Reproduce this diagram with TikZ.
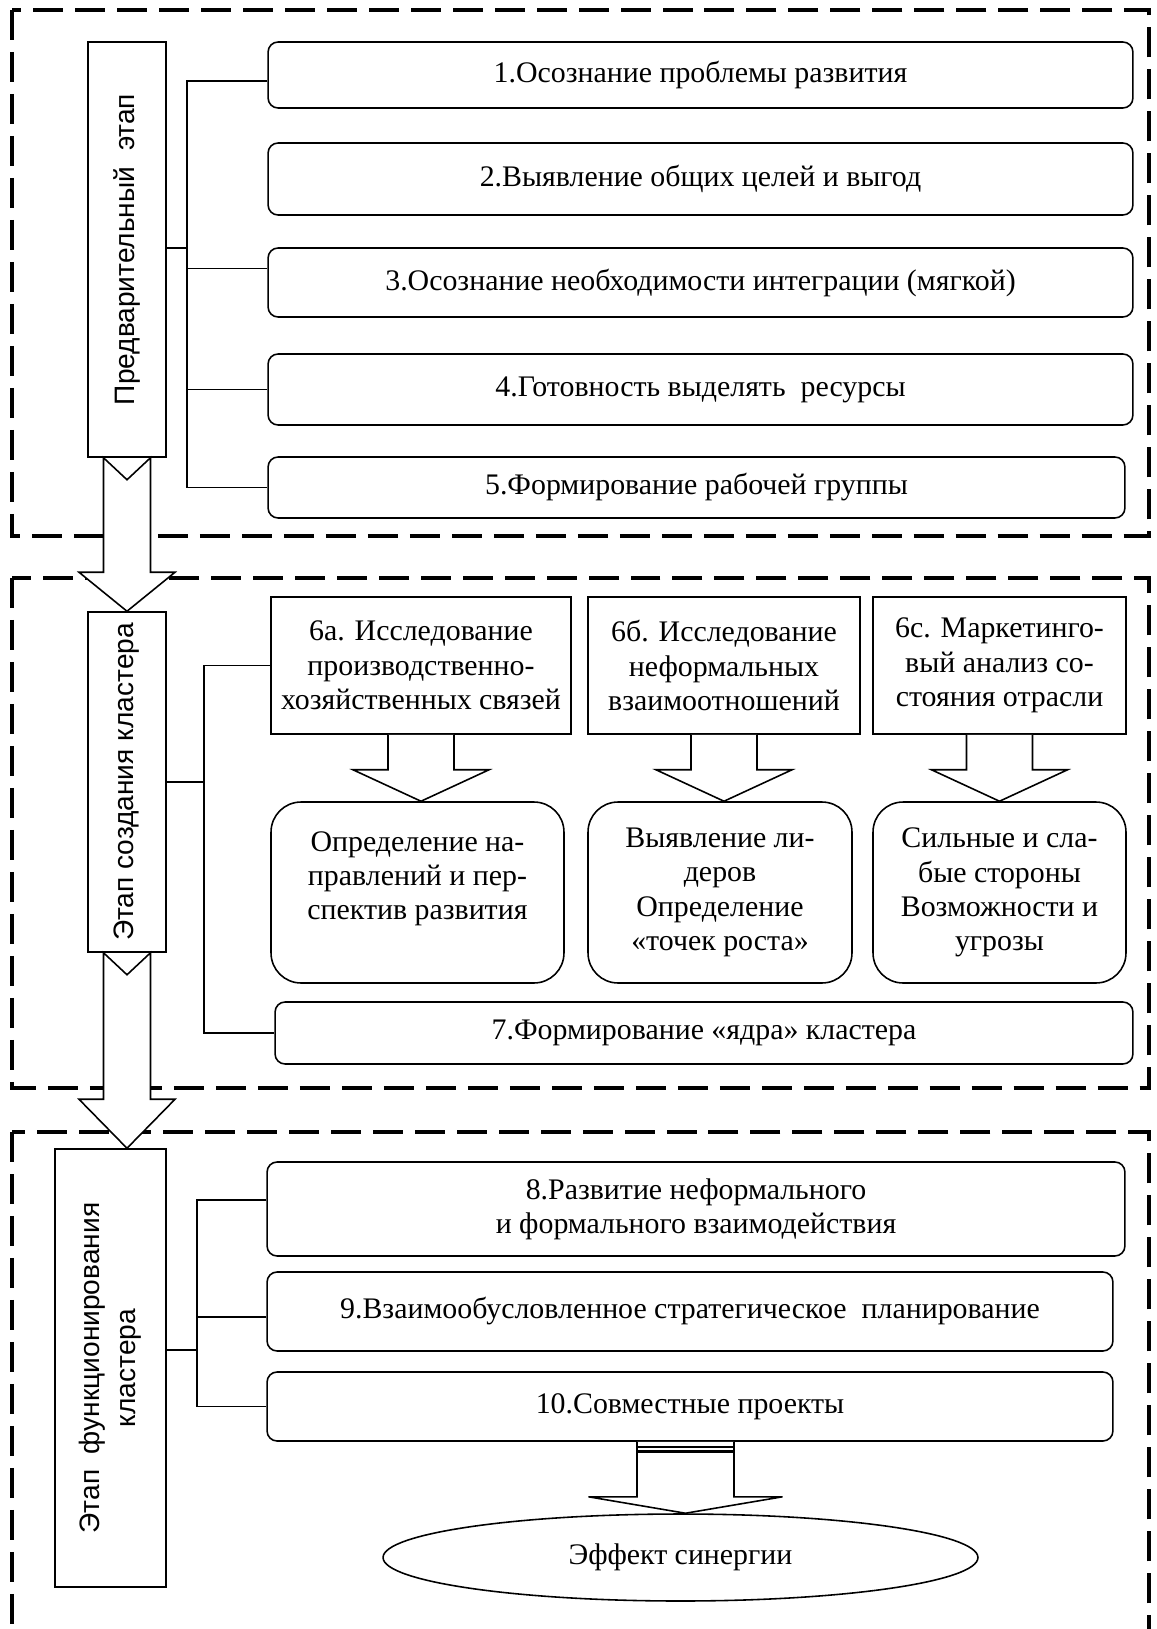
\documentclass[tikz,border=0pt]{standalone}
\usepackage{fontspec}
\usepackage{graphicx}
\setmainfont{Liberation Serif}
\newfontfamily\stagefont{Liberation Sans}
\usetikzlibrary{calc,shapes.geometric}
\tikzset{
  frame-dash/.style={line width=2.2pt, dash pattern=on 0.6cm off 0.24cm},
  box/.style={
    draw=black,
    line width=0.9pt,
    fill=white,
    inner sep=0pt,
    align=center,
    font=\fontsize{17}{19.5}\selectfont
  },
  step-box/.style={box, rounded corners=0.2cm},
  stage-box/.style={box, font=\stagefont\fontsize{16}{20.5}\selectfont},
  study-box/.style={box, minimum height=2.74cm},
  result-box/.style={box, rounded corners=0.6cm, minimum height=3.62cm},
  link/.style={line width=0.9pt},
  fat-arrow/.style={draw=black, line width=0.9pt, fill=white, line join=miter}
}
% big arrow between two stage boxes: from, to, head height
\newcommand{\stagearrow}[3]{
  \draw[fat-arrow] ($(#1.south)+(-23.5,0)$) -- ($(#1.south)+(0,22)$) -- ($(#1.south)+(23.5,0)$)
    -- ($(#1.south |- #2.north)+(23.5,-#3)$) -- ($(#1.south |- #2.north)+(48,-#3)$)
    -- (#1.south |- #2.north) -- ($(#1.south |- #2.north)+(-48,-#3)$)
    -- ($(#1.south |- #2.north)+(-23.5,-#3)$) -- cycle;
}
% small arrow from a study box down to its result box
\newcommand{\studyarrow}[2]{
  \draw[fat-arrow] ($(#1.south)+(-33,0)$) -- ($(#1.south)+(-33,35)$) -- ($(#1.south)+(-68,35)$)
    -- (#1.south |- #2.north) -- ($(#1.south)+(68,35)$) -- ($(#1.south)+(33,35)$)
    -- ($(#1.south)+(33,0)$);
}

\begin{document}
\begin{tikzpicture}[x=0.02cm, y=-0.02cm]
  \useasboundingbox (0,0) rectangle (1156,1629);
  \clip (0,0) rectangle (1156,1629);

  % --- Dashed stage frames ---
  \draw[frame-dash] (12,10) rectangle (1149,536);
  \draw[frame-dash] (12,578) rectangle (1149,1088);
  \draw[frame-dash] (12,1132) rectangle (1149,1660);

  % --- Stage 1 ---
  \node[stage-box, minimum width=1.56cm, minimum height=8.3cm] (stage1) at (127,249.5)
    {\rotatebox{90}{Предварительный\ \ этап}};
  \node[step-box, minimum width=17.3cm, minimum height=1.32cm] (s1) at (700.5,75)
    {1.Осознание проблемы развития};
  \node[step-box, minimum width=17.3cm, minimum height=1.44cm] (s2) at (700.5,179)
    {2.Выявление общих целей и выгод};
  \node[step-box, minimum width=17.3cm, minimum height=1.38cm] (s3) at (700.5,282.5)
    {3.Осознание необходимости интеграции (мягкой)};
  \node[step-box, minimum width=17.3cm, minimum height=1.42cm] (s4) at (700.5,389.5)
    {4.Готовность выделять\ \ ресурсы};
  \node[step-box, minimum width=17.14cm, minimum height=1.22cm] (s5) at (696.5,487.5)
    {5.Формирование рабочей группы};

  \coordinate (j1) at (187,248);
  \draw[link] (stage1.east |- j1) -- (j1);
  \draw[link] ([yshift=-0.12cm]s1.west) -| (j1) |- (s5.west);
  \coordinate (c3) at ([yshift=0.28cm]s3.west);
  \draw[link] (c3) -- (j1 |- c3);
  \draw[link] (s4.west) -- (j1 |- s4.west);

  % --- Stage 2 ---
  \node[stage-box, minimum width=1.56cm, minimum height=6.8cm] (stage2) at (127,782)
    {\rotatebox{90}{Этап создания кластера}};
  \node[study-box, minimum width=6.0cm] (a6) at (421,665.5)
    {6а. Исследование\\производственно-\\хозяйственных связей};
  \node[study-box, minimum width=5.44cm] (b6) at (724,665.5)
    {6б. Исследование\\неформальных\\взаимоотношений};
  \node[study-box, minimum width=5.06cm] (c6) at (999.5,665.5)
    {6с. Маркетинго-\\вый анализ со-\\стояния отрасли};
  \node[result-box, minimum width=5.86cm] (ra) at (417.5,892.5)
    {Определение на-\\правлений и пер-\\спектив развития\\\mbox{}};
  \node[result-box, minimum width=5.28cm] (rb) at (720,892.5)
    {Выявление ли-\\деров\\Определение\\«точек роста»};
  \node[result-box, minimum width=5.06cm] (rc) at (999.5,892.5)
    {Сильные и сла-\\бые стороны\\Возможности и\\угрозы};
  \node[step-box, minimum width=17.16cm, minimum height=1.24cm] (s7) at (704,1033)
    {7.Формирование «ядра» кластера};

  \studyarrow{a6}{ra}
  \studyarrow{b6}{rb}
  \studyarrow{c6}{rc}

  \coordinate (j2) at (204,782);
  \draw[link] (stage2.east) -- (j2);
  \draw[link] (a6.west) -| (j2) |- (s7.west);

  % --- Stage 3 ---
  \node[stage-box, minimum width=2.22cm, minimum height=8.76cm] (stage3) at (110.5,1368)
    {\rotatebox{90}{\begin{tabular}{@{}c@{}}Этап\ \ функционирования\\кластера\end{tabular}}};
  \node[step-box, minimum width=17.16cm, minimum height=1.88cm] (s8) at (696,1209)
    {8.Развитие неформального\\и формального взаимодействия};
  \node[step-box, minimum width=16.92cm, minimum height=1.58cm] (s9) at (690,1311.5)
    {9.Взаимообусловленное стратегическое\ \ планирование};
  \node[step-box, minimum width=16.92cm, minimum height=1.38cm] (s10) at (690,1406.5)
    {10.Совместные проекты};
  \node[box, ellipse, minimum width=11.9cm, minimum height=1.74cm] (eff) at (680.5,1557.5)
    {Эффект синергии};

  \coordinate (j3) at (197,1350);
  \draw[link] ([yshift=0.36cm]stage3.east) -- (j3);
  \draw[link] ([yshift=0.18cm]s8.west) -| (j3) |- (s10.west);
  \coordinate (c9) at ([yshift=-0.11cm]s9.west);
  \draw[link] (c9) -- (j3 |- c9);

  % --- Arrows between stages ---
  \stagearrow{stage1}{stage2}{39}
  \stagearrow{stage2}{stage3}{49}

  % striped arrow to the synergy effect
  \coordinate (fx) at ($(s10.south)+(-4.5,0)$);
  \draw[fat-arrow] ($(fx)+(-48.5,0)$) -- ($(fx)+(-48.5,55)$) -- ($(fx)+(-97,55)$)
    -- (fx |- eff.north) -- ($(fx)+(97,55)$) -- ($(fx)+(48.5,55)$) -- ($(fx)+(48.5,0)$);
  \draw[link] ($(fx)+(-48.5,5)$) -- ($(fx)+(48.5,5)$);
  \draw[line width=1.6pt] ($(fx)+(-48.5,10)$) -- ($(fx)+(48.5,10)$);
\end{tikzpicture}
\end{document}
